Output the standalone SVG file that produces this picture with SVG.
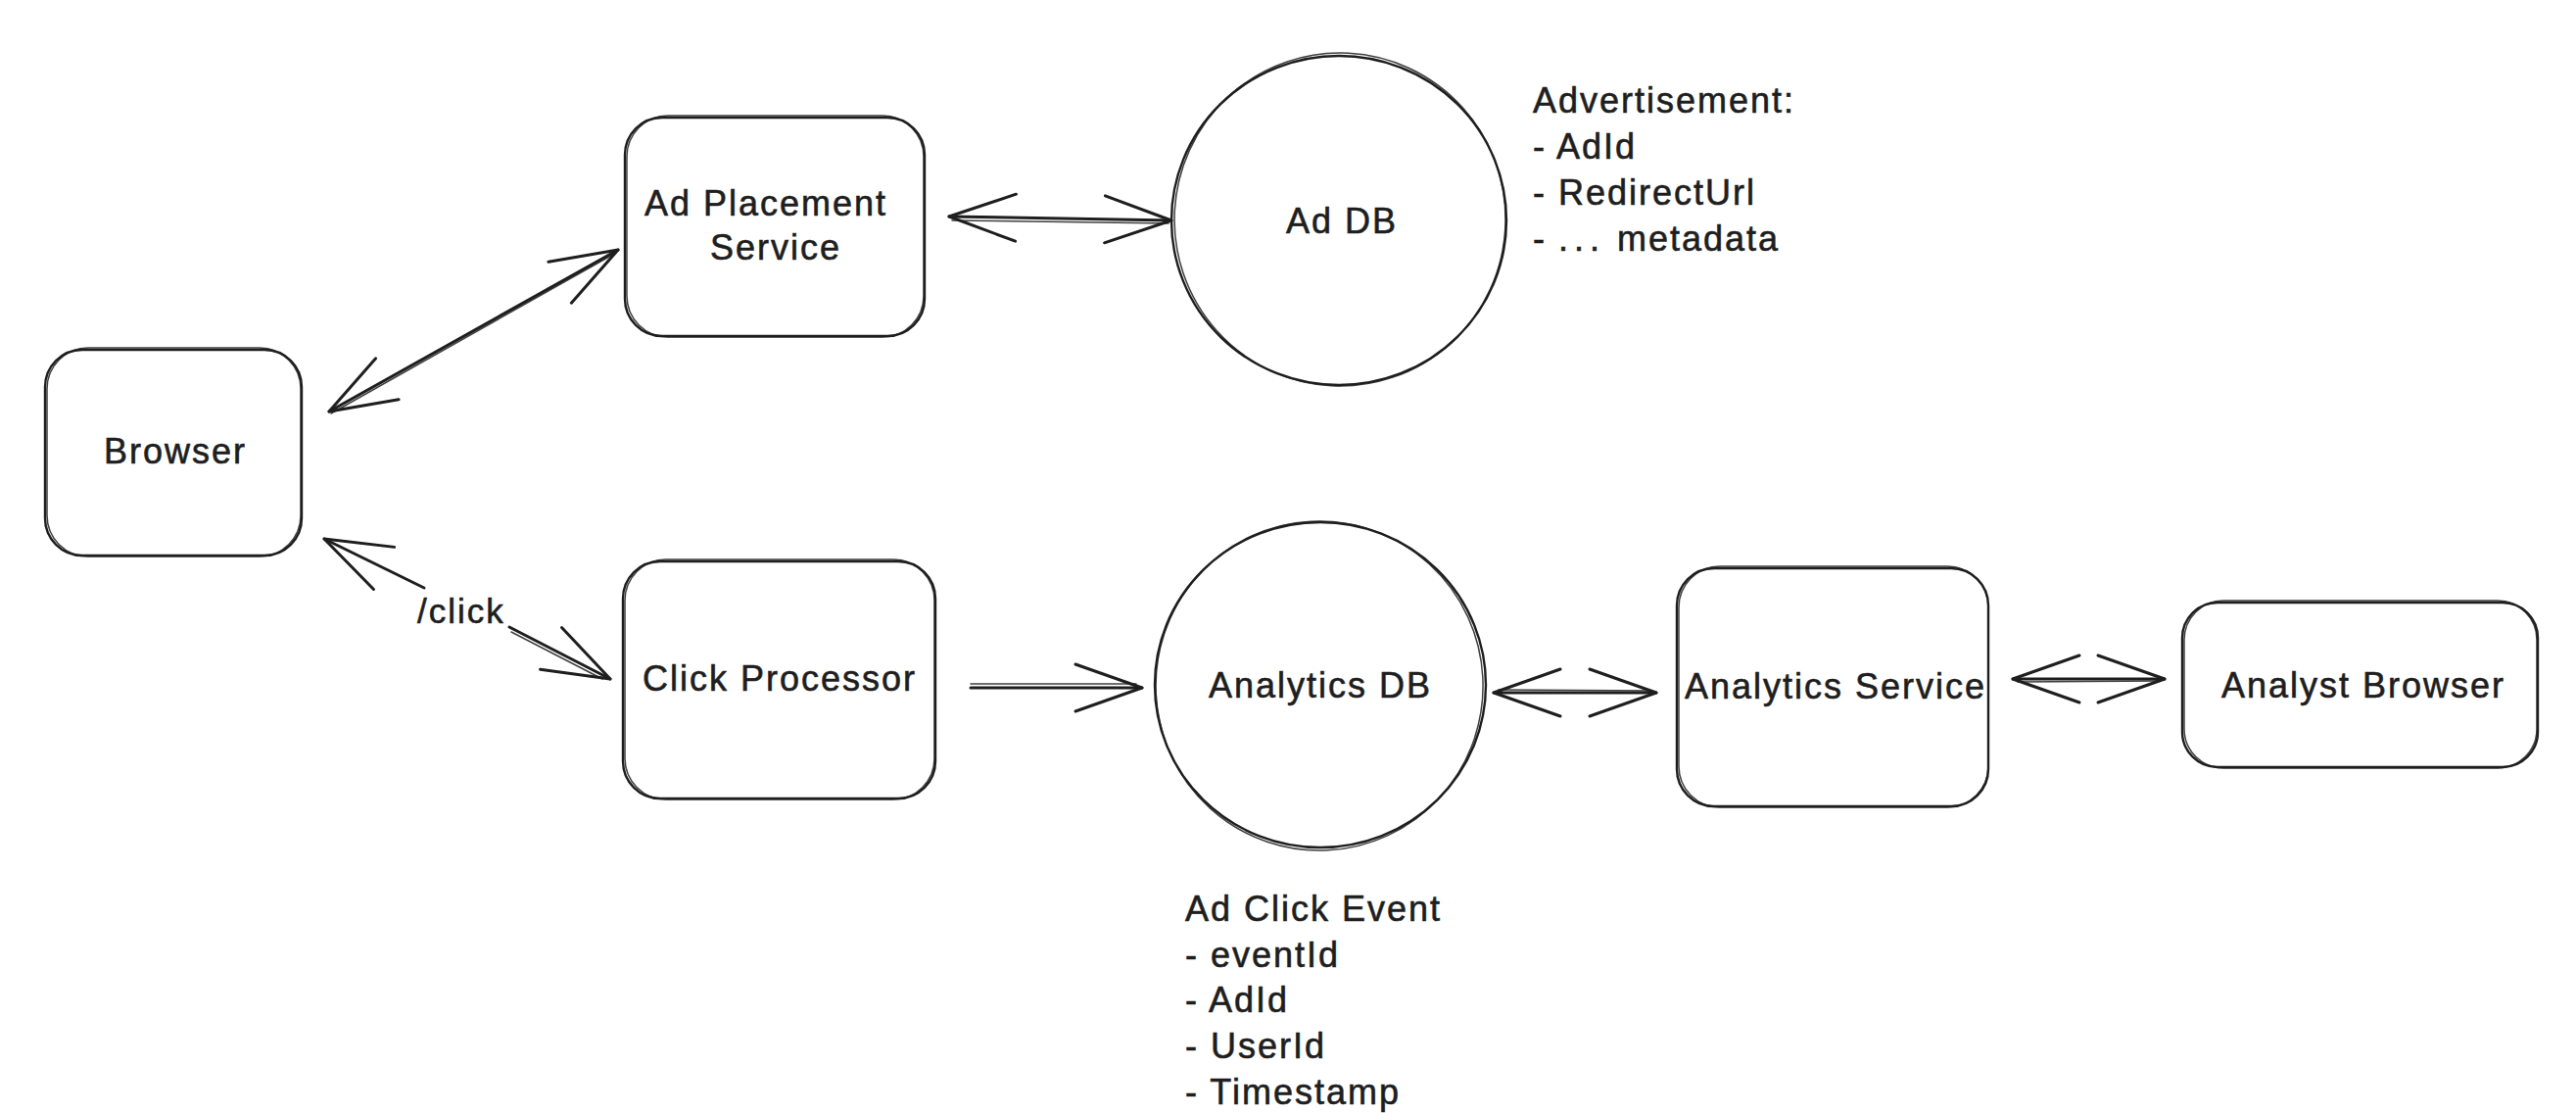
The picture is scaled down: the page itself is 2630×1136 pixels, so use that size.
<svg xmlns="http://www.w3.org/2000/svg" width="2630" height="1136" viewBox="0 0 2630 1136">
<style>
.bg{fill:#ffffff}
.s{fill:none;stroke:#1e1e1e;stroke-width:2.4;stroke-linecap:round;stroke-linejoin:round}
.s2{fill:none;stroke:#1e1e1e;stroke-width:1.5;stroke-linecap:round;opacity:0.85}
.c{fill:none;stroke:#1e1e1e;stroke-width:3;stroke-linecap:round}
.t{font-family:"Liberation Sans",Arial,sans-serif;font-size:36px;letter-spacing:2px;fill:#1e1e1e;stroke:#1e1e1e;stroke-width:0.6;text-anchor:middle}
.a{font-family:"Liberation Sans",Arial,sans-serif;font-size:36px;letter-spacing:2px;fill:#1e1e1e;stroke:#1e1e1e;stroke-width:0.6}
.l{font-family:"Liberation Sans",Arial,sans-serif;font-size:35px;letter-spacing:2px;fill:#1e1e1e;stroke:#1e1e1e;stroke-width:0.6}
</style>
<defs>
<marker id="arr" markerUnits="userSpaceOnUse" markerWidth="80" markerHeight="60" viewBox="-4 -4 80 60" refX="68" refY="24" orient="auto-start-reverse">
<path d="M0,0 L68,24 L0,48" fill="none" stroke="#1e1e1e" stroke-width="3" stroke-linecap="round" stroke-linejoin="round"/>
</marker>
</defs>
<rect class="bg" x="0" y="0" width="2630" height="1136"/>

<g id="browser">
<rect class="s" x="46" y="357" width="262" height="210" rx="38"/>
<rect class="s2" x="48" y="355" width="259" height="213" rx="42"/>
<text class="t" x="179" y="473">Browser</text>
</g>

<g id="ad-placement-service">
<rect class="s" x="638" y="120" width="306" height="223" rx="38"/>
<rect class="s2" x="640" y="118" width="303" height="226" rx="42"/>
<text class="t" x="782" y="220">Ad Placement</text>
<text class="t" x="792" y="265">Service</text>
</g>

<g id="ad-db">
<ellipse class="s" cx="1367" cy="225" rx="171" ry="168"/>
<ellipse class="s2" cx="1368" cy="224" rx="169" ry="170" transform="rotate(3 1367 225)"/>
<text class="t" x="1370" y="238">Ad DB</text>
</g>

<g id="advertisement-note">
<text class="a" x="1565" y="115">Advertisement:</text>
<text class="a" x="1565" y="162">- AdId</text>
<text class="a" x="1565" y="209">- RedirectUrl</text>
<text class="a" x="1565" y="256">- <tspan letter-spacing="6">...</tspan> metadata</text>
</g>

<g id="click-processor">
<rect class="s" x="636" y="573" width="319" height="242" rx="38"/>
<rect class="s2" x="638" y="571" width="316" height="245" rx="42"/>
<text class="t" x="796" y="705">Click Processor</text>
</g>

<g id="analytics-db">
<ellipse class="s" cx="1348" cy="699" rx="169" ry="166"/>
<ellipse class="s2" cx="1347" cy="700" rx="167" ry="168" transform="rotate(-3 1348 699)"/>
<text class="t" x="1348" y="712">Analytics DB</text>
</g>

<g id="ad-click-event-note">
<text class="a" x="1210" y="940">Ad Click Event</text>
<text class="a" x="1210" y="987">- eventId</text>
<text class="a" x="1210" y="1033">- AdId</text>
<text class="a" x="1210" y="1080">- UserId</text>
<text class="a" x="1210" y="1127">- Timestamp</text>
</g>

<g id="analytics-service">
<rect class="s" x="1712" y="580" width="318" height="243" rx="38"/>
<rect class="s2" x="1714" y="578" width="316" height="246" rx="42"/>
<text class="t" x="1874" y="713">Analytics Service</text>
</g>

<g id="analyst-browser">
<rect class="s" x="2228" y="615" width="363" height="168" rx="36"/>
<rect class="s2" x="2230" y="613" width="360" height="171" rx="40"/>
<text class="t" x="2413" y="712">Analyst Browser</text>
</g>

<g id="connectors">
<path class="c" d="M336,420 L631,255" marker-start="url(#arr)" marker-end="url(#arr)"/>
<path class="s2" d="M338,422 L629,258"/>
<path class="c" d="M969,221 L1196,225" marker-start="url(#arr)" marker-end="url(#arr)"/>
<path class="s2" d="M972,225 L1193,228"/>
<path class="c" d="M331,550 L433,600" marker-start="url(#arr)"/>
<path class="c" d="M520,640 L623,693" marker-end="url(#arr)"/>
<path class="s2" d="M522,645 L615,693"/>
<text class="l" x="426" y="636">/click</text>
<path class="c" d="M991,702 L1166,702" marker-end="url(#arr)"/>
<path class="s2" d="M991,698 L1160,698"/>
<path class="c" d="M1525,707 L1691,707" marker-start="url(#arr)" marker-end="url(#arr)"/>
<path class="s2" d="M1530,704 L1686,705"/>
<path class="c" d="M2055,693 L2210,693" marker-start="url(#arr)" marker-end="url(#arr)"/>
<path class="s2" d="M2060,696 L2205,695"/>
</g>
</svg>
